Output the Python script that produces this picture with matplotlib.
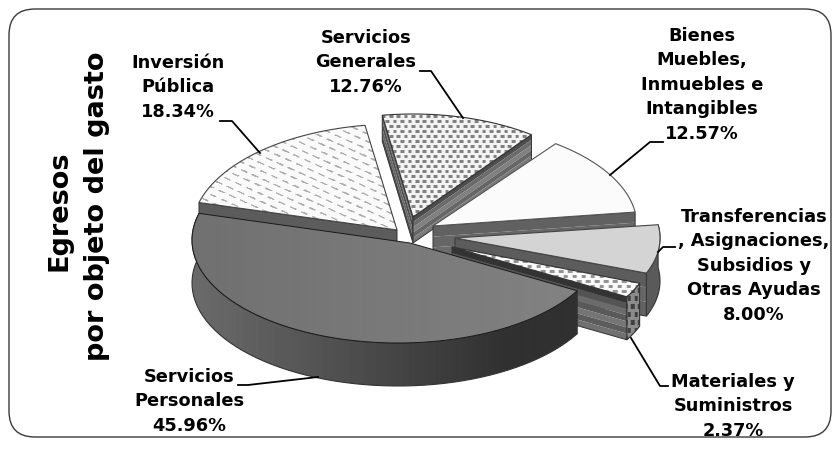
import numpy as np
import matplotlib
matplotlib.use('Agg')
import matplotlib.pyplot as plt
from matplotlib.patches import Polygon, FancyBboxPatch

# values of the chart, clockwise from Inversion Publica
categories = ['Inversión Pública', 'Servicios Generales', 'Bienes Muebles', 'Transferencias', 'Materiales', 'Servicios Personales']
values = [18.34, 12.76, 12.57, 8.00, 2.37, 45.96]
start_angle = 165

# one text per line, as in the picture
inv_lines = ['Inversión', 'Pública', '18.34%']
gen_lines = ['Servicios', 'Generales', '12.76%']
bie_lines = ['Bienes', 'Muebles,', 'Inmuebles e', 'Intangibles', '12.57%']
tra_lines = ['Transferencias', ', Asignaciones,', 'Subsidios y', 'Otras Ayudas', '8.00%']
mat_lines = ['Materiales y', 'Suministros', '2.37%']
per_lines = ['Servicios', 'Personales', '45.96%']

plt.rcParams['font.family'] = ['DejaVu Sans']

fig = plt.figure(figsize=(8.38, 4.55), dpi=100)
ax = fig.add_axes([0, 0, 1, 1])
ax.set_xlim(0, 838)
ax.set_ylim(455, 0)
ax.axis('off')

X, Y = np.meshgrid(np.arange(838), np.arange(455))


def dots(dx, dy, w, h, bg, fg):
    col = np.floor(Y / dy)
    xx = (X + (col % 2) * dx / 2) % dx
    yy = Y % dy
    return np.where((xx < w) & (yy < h), fg, bg)


def dashes():
    a = np.radians(24)
    u = X * np.cos(a) + Y * np.sin(a)
    v = -X * np.sin(a) + Y * np.cos(a)
    row = np.floor(v / 7)
    uu = (u + (row % 2) * 6) % 12
    return np.where((uu < 7) & (v % 7 < 1.5), 0.68, 0.98)


def arc(c, rx, ry, a0, a1):
    t = np.radians(np.linspace(a0, a1, 60))
    return np.column_stack([c[0] + rx * np.cos(t), c[1] - ry * np.sin(t)])


def fill(pts, img=None, color=None, z=1, lw=0.8, ec='#333333'):
    # plain polygon, or an image clipped to the polygon
    if img is None:
        p = Polygon(pts, closed=True, fc=color, ec=ec, lw=lw, zorder=z)
        ax.add_patch(p)
    else:
        p = Polygon(pts, closed=True, fc='none', ec=ec, lw=lw, zorder=z + 0.01)
        ax.add_patch(p)
        im = ax.imshow(img, cmap='gray', vmin=0, vmax=1, extent=(0, 838, 455, 0),
                       interpolation='bilinear', zorder=z, aspect='auto')
        im.set_clip_path(p)


def bands(p0, p1, depth, grays, z):
    # cut face of a slice, striped top to bottom
    n = len(grays)
    p0 = np.array(p0, float)
    p1 = np.array(p1, float)
    for i, g in enumerate(grays):
        d0 = np.array([0, depth * i / n])
        d1 = np.array([0, depth * (i + 1) / n])
        fill([p0 + d0, p1 + d0, p1 + d1, p0 + d1], color=str(g), z=z, lw=0, ec='none')
    fill([p0, p1, p1 + [0, depth], p0 + [0, depth]], color='none', z=z + 0.02, lw=0.7)


# slice angles come from the values
ends = start_angle - np.cumsum(values) * 3.6
starts = np.concatenate([[start_angle], ends[:-1]])

# --- Inversion Publica
apex = (397, 230)
rim = arc(apex, 205, 106, starts[0], ends[0])
bands(rim[0], apex, 40, [0.36, 0.42, 0.4], 2)
fill(np.vstack([[apex], rim]), img=dashes(), z=3, ec='#444444')

# --- Servicios Generales
apex = (413, 217)
rim = arc(apex, 197, 103, starts[1], ends[1])
bands(rim[0], apex, 26, [0.42, 0.3, 0.4, 0.3], 2)
bands(apex, rim[-1], 26, [0.3, 0.42, 0.5, 0.4, 0.48], 2.1)
fill(np.vstack([[apex], rim]), img=dots(7.4, 5, 3.6, 2.4, 0.95, 0.5), z=3, ec='#333333')

# --- Bienes Muebles
apex = (433, 226)
rim = arc(apex, 204, 103, starts[2], ends[2])
bands(apex, rim[-1], 32, [0.38, 0.4, 0.42], 4)
fill(np.vstack([[apex], rim]), color='#fbfbfb', z=5, ec='#555555')

# --- Transferencias
apex = (455, 238)
rim = arc(apex, 205, 98, starts[3], ends[3])
off = np.array([0, 43])
fill(np.vstack([rim, (rim + off)[::-1]]), color='#5a5a5a', z=6)
bands(apex, rim[-1], 43, [0.36, 0.4, 0.38], 6.2)
fill(np.vstack([[apex], rim]), color='#d4d4d4', z=7, ec='#444444')

# --- Materiales
apex = (452, 247)
rim = arc(apex, 201, 101, starts[4], ends[4])
bands(apex, rim[-1], 43, [0.2, 0.33, 0.42, 0.35, 0.46, 0.36, 0.44], 8)
fill(np.vstack([rim, (rim + off)[::-1]]), img=dots(7, 8, 3.5, 5, 0.55, 0.25), z=8.5)
fill(np.vstack([[apex], rim]), img=dots(9, 5, 4.5, 2.6, 0.98, 0.58), z=9, ec='#333333')

# --- Servicios Personales
apex = (410, 243)
c = (398, 240)
rim = arc(c, 206, 103, starts[5], ends[5])
low = rim + off
wall = np.clip(0.42 - 0.24 * (X - 190) / 330, 0.19, 0.45)
fill(np.vstack([rim, low[::-1]]), img=wall, z=10)
top = np.clip(0.44 + 0.07 * (X - 190) / 390, 0.4, 0.51)
fill(np.vstack([[apex], rim]), img=top, z=11, ec='#1a1a1a', lw=0.7)

# rounded frame
ax.add_patch(FancyBboxPatch((9, 9), 822, 428, boxstyle='round,pad=0,rounding_size=26',
                            fc='none', ec='#3a3a3a', lw=1.0, zorder=20, mutation_aspect=1))

# leader lines
leaders = [
    ([220, 232, 260], [121, 121, 153]),
    ([420, 431, 463], [71, 71, 118]),
    ([663, 650, 610], [142, 142, 175]),
    ([675, 663, 658], [247, 247, 252]),
    ([631, 660, 668], [338, 386, 386]),
    ([238, 248, 318], [385, 385, 377]),
]
for lx, ly in leaders:
    ax.plot(lx, ly, color='black', lw=1.3, zorder=21)

# labels
labels = [
    (inv_lines, 178, 63),
    (gen_lines, 366, 38),
    (bie_lines, 702, 36),
    (tra_lines, 754, 217),
    (mat_lines, 733, 382),
    (per_lines, 189, 377),
]
for lines, x, y0 in labels:
    for i, line in enumerate(lines):
        ax.text(x, y0 + i * 24.4, line, ha='center', va='center', fontsize=12.8,
                fontweight='bold', color='black', zorder=22)

ax.text(59, 211, 'Egresos', rotation=90, ha='center', va='center', fontsize=19.5, fontweight='bold')
ax.text(97, 206, 'por objeto del gasto', rotation=90, ha='center', va='center', fontsize=19.5, fontweight='bold')

fig.savefig('out.png', dpi=100)
